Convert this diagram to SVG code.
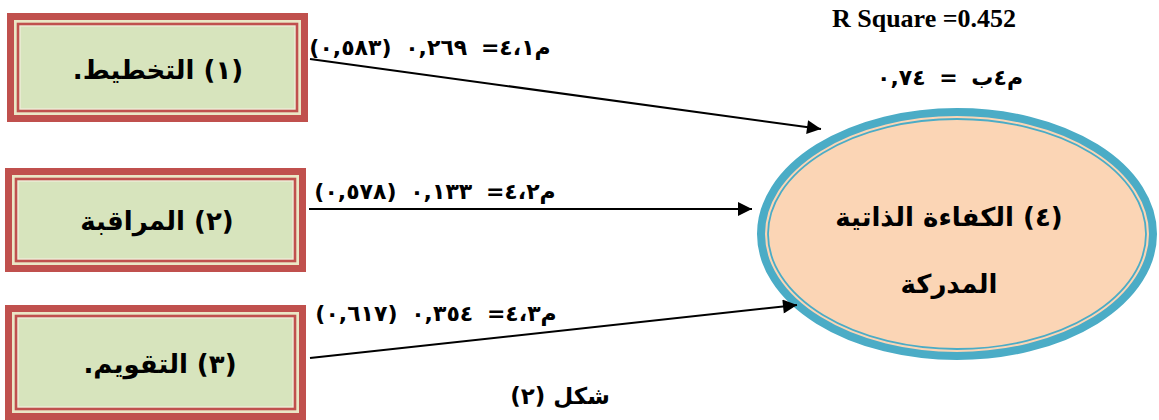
<svg xmlns="http://www.w3.org/2000/svg" width="1159" height="420" viewBox="0 0 1159 420">
<defs>
<style>
.red{fill:#C0504D}
.strip{fill:#EAE7C6}
.light{fill:#EEEDD8}
.green{fill:#D7E4BD}
.ar{font-family:"DejaVu Sans",sans-serif;font-weight:bold;fill:#000}
.node{font-size:26px;text-anchor:middle;direction:rtl}
.lbl{font-size:22px;word-spacing:6px;text-anchor:middle;direction:rtl}
.cap{font-size:23px;text-anchor:middle;direction:rtl}
.edge{stroke:#000;stroke-width:2;fill:none}
</style>
<marker id="ah" viewBox="0 0 10 10" refX="10" refY="5" markerWidth="9" markerHeight="7" markerUnits="strokeWidth" orient="auto">
<path d="M0,0 L10,5 L0,10 z" fill="#000"/>
</marker>
</defs>
<rect width="1159" height="420" fill="#fff"/>

<g id="node-1">
<rect class="red" x="7" y="13" width="301" height="109"/>
<rect class="strip" x="14" y="20" width="287" height="95"/>
<rect class="red" x="16.7" y="22.7" width="281.6" height="89.6"/>
<rect class="light" x="19.3" y="25.3" width="276.4" height="84.4"/>
<rect class="green" x="20.7" y="26.7" width="273.6" height="81.6"/>
<text class="ar node" x="158" y="79">(١) التخطيط.</text>
</g>

<g id="node-2">
<rect class="red" x="5" y="168" width="301" height="104"/>
<rect class="strip" x="12" y="175" width="287" height="90"/>
<rect class="red" x="14.7" y="177.7" width="281.6" height="84.6"/>
<rect class="light" x="17.3" y="180.3" width="276.4" height="79.4"/>
<rect class="green" x="18.7" y="181.7" width="273.6" height="76.6"/>
<text class="ar node" x="157" y="230">(٢) المراقبة</text>
</g>

<g id="node-3">
<rect class="red" x="5" y="305" width="301" height="115"/>
<rect class="strip" x="12" y="312" width="287" height="101"/>
<rect class="red" x="14.7" y="314.7" width="281.6" height="95.6"/>
<rect class="light" x="17.3" y="317.3" width="276.4" height="90.4"/>
<rect class="green" x="18.7" y="318.7" width="273.6" height="87.6"/>
<text class="ar node" x="160" y="373">(٣) التقويم.</text>
</g>

<g id="node-4">
<ellipse cx="957" cy="234" rx="196" ry="122" fill="#FBD5B5" stroke="#4BACC6" stroke-width="8"/>
<ellipse cx="957" cy="234" rx="189" ry="115" fill="none" stroke="#4BACC6" stroke-width="1.8"/>
<text class="ar node" x="949" y="226">(٤) الكفاءة الذاتية</text>
<text class="ar node" x="949" y="293">المدركة</text>
</g>

<g id="connectors">
<line class="edge" x1="310" y1="59" x2="821" y2="129" marker-end="url(#ah)"/>
<line class="edge" x1="309" y1="209" x2="752" y2="209" marker-end="url(#ah)"/>
<line class="edge" x1="310" y1="358" x2="797" y2="305" marker-end="url(#ah)"/>
<text class="ar lbl" x="430" y="55">م٤،١= ٠,٢٦٩ (٠,٥٨٣)</text>
<text class="ar lbl" x="435" y="199">م٤،٢= ٠,١٣٣ (٠,٥٧٨)</text>
<text class="ar lbl" x="436" y="321">م٤،٣= ٠,٣٥٤ (٠,٦١٧)</text>
</g>

<g id="stats">
<text x="924" y="27" font-family="Liberation Serif" font-weight="bold" font-size="26" text-anchor="middle">R Square =0.452</text>
<text class="ar lbl" x="950" y="85">م٤ب = ٠,٧٤</text>
</g>

<g id="caption">
<text class="ar cap" x="560" y="404">شكل (٢)</text>
</g>
</svg>
